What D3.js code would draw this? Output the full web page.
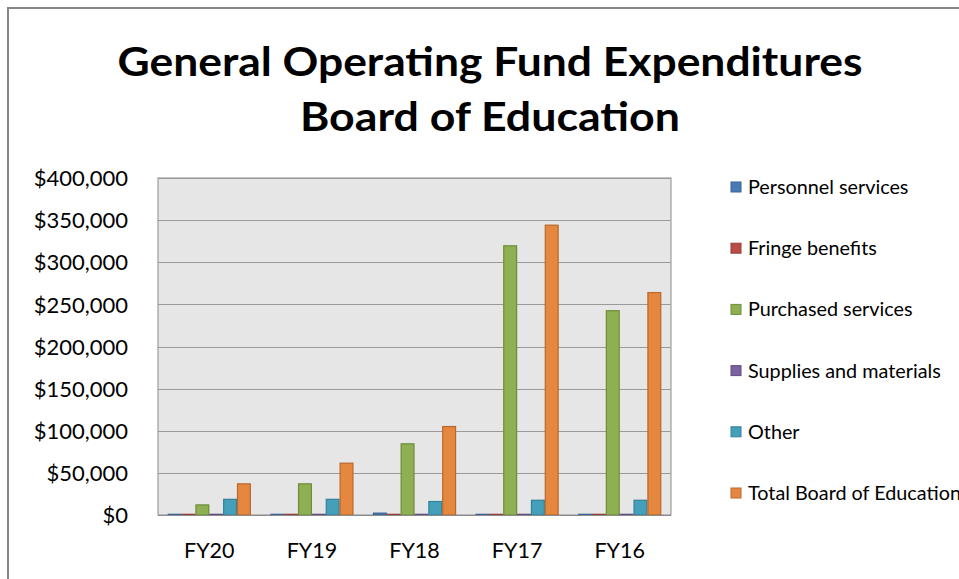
<!DOCTYPE html>
<html><head><meta charset="utf-8">
<script src="https://cdn.jsdelivr.net/npm/d3@7"></script>
<style>
html,body{margin:0;padding:0;background:#fff;}
svg{display:block;font-family:Lato,"Open Sans",sans-serif;}
</style></head>
<body>
<svg id="c" width="959" height="579"></svg>
<script>
const categories = ["FY20","FY19","FY18","FY17","FY16"];
const seriesNames = ["Personnel services","Fringe benefits","Purchased services","Supplies and materials","Other","Total Board of Education"];
const personnel = [800, 800, 2200, 800, 800];
const fringe = [800, 800, 800, 800, 800];
const purchased = [12000, 37000, 84500, 319500, 242500];
const supplies = [800, 800, 800, 800, 800];
const other = [18600, 18600, 16000, 17500, 17500];
const total = [37000, 61500, 105000, 344000, 264000];
const yTicks = [0,50000,100000,150000,200000,250000,300000,350000,400000];
const titleLines = ["General Operating Fund Expenditures","Board of Education"];

const seriesValues = [personnel, fringe, purchased, supplies, other, total];
const fills = ["#4a7ab5","#b94c49","#8eaf52","#7a61a0","#449fba","#e5873e"];
const strokes = ["#3a6396","#963d3b","#6f8c3c","#604c82","#33819a","#b8692c"];

const svg = d3.select("#c");
svg.append("rect").attr("x",8).attr("y",8).attr("width",1000).attr("height",1000)
  .attr("fill","#fff").attr("stroke","#878787").attr("stroke-width",2);

svg.append("text").attr("x",490).attr("y",76).attr("text-anchor","middle")
  .attr("font-size",40).attr("font-weight","bold").attr("fill","#000")
  .attr("textLength",745).attr("lengthAdjust","spacingAndGlyphs").text(titleLines[0]);
svg.append("text").attr("x",490).attr("y",131).attr("text-anchor","middle")
  .attr("font-size",40).attr("font-weight","bold").attr("fill","#000")
  .attr("textLength",380).attr("lengthAdjust","spacingAndGlyphs").text(titleLines[1]);

const L=158, R=671, T=178, B=515;
const y = d3.scaleLinear().domain([0,400000]).range([B,T]);
const x0 = d3.scaleBand().domain(categories).range([L,R]).paddingInner(0.19).paddingOuter(0.095);
const x1 = d3.scaleBand().domain(d3.range(6)).range([0,x0.bandwidth()]);

svg.append("rect").attr("x",L).attr("y",T).attr("width",R-L).attr("height",B-T)
  .attr("fill","#e6e6e6").attr("stroke","#8c8c8c").attr("stroke-width",1);

svg.append("g").selectAll("line").data(yTicks.slice(1)).join("line")
  .attr("x1",L).attr("x2",R).attr("y1",d=>Math.round(y(d))+0.5).attr("y2",d=>Math.round(y(d))+0.5)
  .attr("stroke","#9a9a9a").attr("stroke-width",1.2);

const fmt = d => "$" + d3.format(",")(d);
const yAxis = svg.append("g").attr("transform",`translate(${L},0)`)
  .call(d3.axisLeft(y).tickValues(yTicks).tickFormat(fmt).tickSize(0).tickPadding(30));
yAxis.select(".domain").remove();
yAxis.selectAll("text").attr("font-size",22).attr("fill","#000").attr("dy","0.35em")
  .attr("font-family","Lato,'Open Sans',sans-serif");

const xAxis = svg.append("g").attr("transform",`translate(0,${B})`)
  .call(d3.axisBottom(x0).tickSize(0).tickPadding(28));
xAxis.select(".domain").remove();
xAxis.selectAll("text").attr("font-size",21.5).attr("fill","#000")
  .attr("font-family","Lato,'Open Sans',sans-serif");

const g = svg.append("g");
categories.forEach((c,ci)=>{
  seriesValues.forEach((vals,si)=>{
    const v = vals[ci];
    const h = B - y(v);
    g.append("rect")
      .attr("x", x0(c)+x1(si)+0.5)
      .attr("y", y(v))
      .attr("width", x1.bandwidth()-1)
      .attr("height", h)
      .attr("fill", fills[si]).attr("stroke", strokes[si]).attr("stroke-width",1.2);
  });
});

svg.append("line").attr("x1",L).attr("x2",R).attr("y1",B+0.5).attr("y2",B+0.5).attr("stroke","#8c8c8c");

const lg = svg.append("g");
seriesNames.forEach((n,i)=>{
  const cy = 187 + i*61.2;
  lg.append("rect").attr("x",731).attr("y",cy-5).attr("width",10).attr("height",10)
    .attr("fill",fills[i]).attr("stroke",strokes[i]).attr("stroke-width",1);
  lg.append("text").attr("x",748).attr("y",cy).attr("dy","0.35em").attr("font-size",19.8)
    .attr("fill","#000").text(n);
});
</script>
</body></html>
